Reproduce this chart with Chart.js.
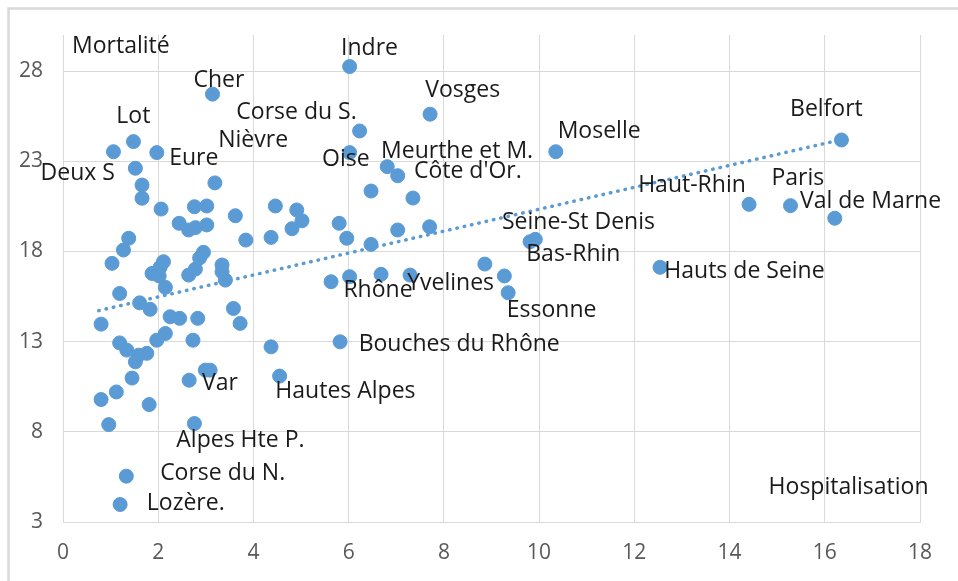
<!DOCTYPE html>
<html>
<head>
<meta charset="utf-8">
<script src="https://cdn.jsdelivr.net/npm/chart.js@4"></script>
<style>
  html, body { margin: 0; padding: 0; background: #ffffff; }
  #wrap { position: relative; width: 958px; height: 581px; }
</style>
</head>
<body>
<div id="wrap"><canvas id="scatterChart" width="958" height="581"></canvas></div>
<script>
// Hospitalisation (x) vs Mortalité (y), one point per département
const hospX = [
  3.14, 1.48, 1.06, 1.97, 1.52, 3.19, 1.66, 1.66, 2.06, 2.76,
  3.02, 2.44, 2.64, 2.78, 3.02, 3.62, 4.46, 4.91, 5.02, 4.81,
  3.84, 4.37, 1.38, 1.27, 2.95, 2.87, 2.78, 2.64, 1.03, 2.11,
  2.04, 1.87, 2.02, 3.34, 3.34, 3.41, 2.15, 1.19, 1.61, 1.83,
  0.80, 2.25, 2.45, 2.83, 3.58, 3.72, 1.19, 1.34, 1.52, 1.59,
  1.76, 1.97, 2.15, 2.73, 4.37, 1.45, 2.65, 2.99, 3.09, 4.55,
  1.12, 0.80, 1.81, 0.96, 2.76, 1.33, 1.20, 6.02, 7.71, 6.23,
  6.02, 10.35, 6.81, 7.03, 6.47, 7.35, 5.80, 5.96, 6.47, 7.03,
  7.70, 5.63, 6.02, 6.68, 7.29, 8.86, 9.27, 9.35, 9.81, 9.92,
  5.82, 16.35, 14.41, 15.28, 16.21, 12.54
];
const mortY = [
  26.72, 24.09, 23.53, 23.48, 22.61, 21.80, 21.68, 20.95, 20.35, 20.48,
  20.52, 19.56, 19.19, 19.32, 19.47, 19.98, 20.52, 20.30, 19.70, 19.26,
  18.63, 18.78, 18.73, 18.08, 17.95, 17.64, 17.02, 16.69, 17.34, 17.43,
  17.12, 16.78, 16.64, 17.25, 16.87, 16.41, 16.01, 15.67, 15.15, 14.79,
  13.97, 14.38, 14.29, 14.29, 14.84, 14.01, 12.93, 12.53, 11.88, 12.25,
  12.35, 13.08, 13.45, 13.08, 12.71, 10.98, 10.86, 11.42, 11.42, 11.09,
  10.21, 9.79, 9.51, 8.40, 8.46, 5.54, 3.97, 28.25, 25.61, 24.68,
  23.48, 23.53, 22.70, 22.20, 21.35, 20.96, 19.56, 18.73, 18.39, 19.19,
  19.37, 16.32, 16.60, 16.73, 16.69, 17.30, 16.64, 15.71, 18.54, 18.67,
  12.99, 24.18, 20.61, 20.54, 19.84, 17.12
];

// dotted linear trendline, end points
const trendX = [0.75, 16.35];
const trendY = [14.72, 24.2];

const xTicks = [0, 2, 4, 6, 8, 10, 12, 14, 16, 18];
const yTicks = [3, 8, 13, 18, 23, 28];

// text labels placed in the plot (left edge, middle) in data units
const labelText = [
  'Mortalité', 'Cher', 'Lot', 'Eure', 'Deux S', 'Nièvre', 'Corse du S.', 'Indre',
  'Vosges', 'Oise', 'Meurthe et M.', "Côte d'Or.", 'Moselle', 'Belfort', 'Haut-Rhin',
  'Paris', 'Val de Marne', 'Seine-St Denis', 'Bas-Rhin', 'Hauts de Seine', 'Rhône',
  'Yvelines', 'Essonne', 'Bouches du Rhône', 'Var', 'Hautes Alpes', 'Alpes Hte P.',
  'Corse du N.', 'Lozère.', 'Hospitalisation'
];
const labelX = [
  0.19, 2.74, 1.12, 2.23, -0.47, 3.26, 3.64, 5.84,
  7.61, 5.44, 6.68, 7.37, 10.39, 15.27, 12.08,
  14.88, 15.48, 9.22, 9.73, 12.63, 5.89,
  7.23, 9.32, 6.21, 2.92, 4.46, 2.38,
  2.04, 1.76, 14.82
];
const labelY = [
  29.36, 27.46, 25.47, 23.17, 22.30, 24.18, 25.72, 29.27,
  26.92, 23.11, 23.53, 22.42, 24.64, 25.85, 21.68,
  22.02, 20.76, 19.59, 17.86, 16.87, 15.86,
  16.23, 14.75, 12.86, 10.68, 10.21, 7.53,
  5.69, 4.02, 4.94
];

const blue = '#5b9bd5';
const gridColor = '#d9d9d9';
const fontFamily = "'Open Sans', 'Noto Sans', sans-serif";

const points = hospX.map((x, i) => ({ x, y: mortY[i] }));
const trend = trendX.map((x, i) => ({ x, y: trendY[i] }));

const frame = {
  id: 'frame',
  beforeDraw(chart) {
    const ctx = chart.ctx;
    ctx.save();
    ctx.fillStyle = '#ffffff';
    ctx.fillRect(0, 0, chart.width, chart.height);
    ctx.strokeStyle = gridColor;
    ctx.lineWidth = 2.5;
    ctx.strokeRect(8.5, 8.5, 1000, 1000);
    ctx.restore();
  }
};

const textLabels = {
  id: 'textLabels',
  afterDatasetsDraw(chart) {
    const ctx = chart.ctx;
    const xs = chart.scales.x, ys = chart.scales.y;
    ctx.save();
    ctx.font = '23px ' + fontFamily;
    ctx.fillStyle = '#1a1a1a';
    ctx.textAlign = 'left';
    ctx.textBaseline = 'middle';
    labelText.forEach((t, i) => {
      ctx.fillText(t, xs.getPixelForValue(labelX[i]), ys.getPixelForValue(labelY[i]));
    });
    ctx.restore();
  }
};

new Chart(document.getElementById('scatterChart'), {
  type: 'scatter',
  data: {
    datasets: [
      {
        label: 'Départements',
        data: points,
        backgroundColor: blue,
        borderColor: blue,
        borderWidth: 1,
        pointRadius: 7,
        order: 2
      },
      {
        label: 'Tendance',
        data: trend,
        type: 'line',
        showLine: true,
        borderColor: blue,
        borderWidth: 3.5,
        borderDash: [0.5, 7],
        borderCapStyle: 'round',
        pointRadius: 0,
        fill: false,
        order: 1
      }
    ]
  },
  options: {
    responsive: false,
    animation: false,
    layout: { padding: { left: 0, top: 35, right: 38, bottom: 0 } },
    plugins: {
      legend: { display: false },
      tooltip: { enabled: false }
    },
    scales: {
      x: {
        type: 'linear',
        position: 'bottom',
        min: 0,
        max: 18,
        afterBuildTicks: s => { s.ticks = xTicks.map(v => ({ value: v })); },
        afterFit: s => { s.height = 59; },
        ticks: { color: '#595959', padding: 18, font: { family: fontFamily, size: 21 } },
        grid: { color: gridColor, lineWidth: 1, drawTicks: false },
        border: { color: gridColor, width: 1 }
      },
      y: {
        type: 'linear',
        min: 3,
        max: 30,
        afterBuildTicks: s => { s.ticks = yTicks.map(v => ({ value: v })); },
        afterFit: s => { s.width = 63; },
        ticks: { color: '#595959', padding: 20, font: { family: fontFamily, size: 21 } },
        grid: { color: gridColor, lineWidth: 1, drawTicks: false },
        border: { color: gridColor, width: 1 }
      }
    }
  },
  plugins: [frame, textLabels]
});
</script>
</body>
</html>
